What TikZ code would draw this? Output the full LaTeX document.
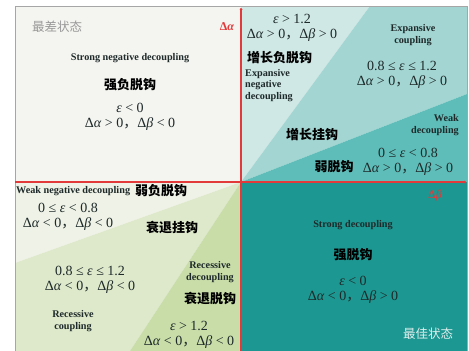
\documentclass[tikz,border=0pt]{standalone}
\usepackage{fontspec}
\setmainfont{Liberation Serif}
\newfontfamily\cjk{Noto Sans CJK SC}
\usetikzlibrary{arrows.meta}
\definecolor{tlfill}{HTML}{F4F4F0}
\definecolor{trA}{HTML}{CFE7E5}
\definecolor{trB}{HTML}{A3D5D2}
\definecolor{trC}{HTML}{5FBDB9}
\definecolor{brfill}{HTML}{1D9791}
\definecolor{blA}{HTML}{EFF2E6}
\definecolor{blB}{HTML}{DEE8CB}
\definecolor{blC}{HTML}{C9DDA9}
\definecolor{axisred}{HTML}{E23A3A}
\definecolor{txt}{HTML}{1E2A2A}
\newcommand{\ia}{\textit{α}}
\newcommand{\ib}{\textit{β}}
\newcommand{\ie}{\textit{ε}}
\newcommand{\cc}{{\cjk ，}}
\tikzset{
  en/.style={font=\fontsize{10.2}{11.5}\selectfont\bfseries, text=txt, inner sep=0pt, align=center},
  zh/.style={font=\cjk\bfseries\fontsize{13}{14}\selectfont, text=black, inner sep=0pt},
  eq/.style={font=\fontsize{14}{15.5}\selectfont, text=txt, inner sep=0pt, align=center},
  state/.style={font=\cjk\fontsize{12.5}{14}\selectfont, inner sep=0pt},
  axlab/.style={font=\fontsize{12}{13}\selectfont, text=axisred, inner sep=0pt}
}
\begin{document}
\begin{tikzpicture}[x=1pt,y=-1pt]
\useasboundingbox (0,0) rectangle (469,351);
\fill[white] (0,0) rectangle (469,351);
% quadrants
\fill[tlfill] (15,6) rectangle (241,182);
\fill[trA] (241,182) -- (241,6) -- (370,6) -- cycle;
\fill[trB] (241,182) -- (370,6) -- (467,6) -- (467,94) -- cycle;
\fill[trC] (241,182) -- (467,94) -- (467,182) -- cycle;
\fill[brfill] (241,182) rectangle (467,351);
\fill[blA] (15,182) -- (241,182) -- (15,263) -- cycle;
\fill[blB] (15,263) -- (241,182) -- (130,351) -- (15,351) -- cycle;
\fill[blC] (241,182) -- (241,351) -- (130,351) -- cycle;
\draw[gray!70, line width=0.8pt] (15,351) -- (15,6) -- (467,6) -- (467,351);
% axes
\coordinate (o) at (241,182);
\coordinate (ytop) at (241,8);
\coordinate (ybot) at (241,351);
\coordinate (xl) at (15,182);
\coordinate (xr) at (466,182);
\draw[axisred, line width=1.2pt, -{Circle[length=2.5pt]}] (ybot) -- (ytop);
\draw[axisred, line width=1.2pt, -{Circle[length=2.5pt]}] (xl) -- (xr);
\node[axlab] (da) at (227,27) {\textbf{Δ\textit{α}}};
\node[axlab] (db) at (435,196) {Δ\textit{β}};
% top-left
\node[state, text=gray!80] (worst) at (57,27) {最差状态};
\node[en] (sn) at (130,58) {Strong negative decoupling};
\node[zh] (snz) at (130,85) {强负脱钩};
\node[eq] (sne) at (130,117) {\ie{} < 0\\Δ\ia{} > 0\cc Δ\ib{} < 0};
% top-right
\node[eq] (ende) at (292,28) {\ie{} > 1.2\\Δ\ia{} > 0\cc Δ\ib{} > 0};
\node[zh, anchor=west] (endz) at (247,58) {增长负脱钩};
\node[en, anchor=north west, align=left] (ende2) at (245,69) {Expansive\\negative\\decoupling};
\node[en] (ec) at (413,35) {Expansive\\coupling};
\node[eq] (ece) at (402,75) {0.8 ≤ \ie{} ≤ 1.2\\Δ\ia{} > 0\cc Δ\ib{} > 0};
\node[en, anchor=east, align=right] (wd) at (459,125) {Weak\\decoupling};
\node[zh] (ecz) at (312,135) {增长挂钩};
\node[eq] (wde) at (408,162) {0 ≤ \ie{} < 0.8\\Δ\ia{} > 0\cc Δ\ib{} > 0};
\node[zh] (wdz) at (334,167) {弱脱钩};
% bottom-left
\node[en, anchor=west] (wn) at (16,191) {Weak negative decoupling};
\node[zh, anchor=west] (wnz) at (135,191) {弱负脱钩};
\node[eq] (wne) at (68,217) {0 ≤ \ie{} < 0.8\\Δ\ia{} < 0\cc Δ\ib{} < 0};
\node[zh] (rcz) at (172,227) {衰退挂钩};
\node[eq] (rce) at (90,280) {0.8 ≤ \ie{} ≤ 1.2\\Δ\ia{} < 0\cc Δ\ib{} < 0};
\node[en] (rd) at (210,272) {Recessive\\decoupling};
\node[zh] (rdz) at (210,298) {衰退脱钩};
\node[en] (rc) at (73,321) {Recessive\\coupling};
\node[eq] (rde) at (189,335) {\ie{} > 1.2\\Δ\ia{} < 0\cc Δ\ib{} < 0};
% bottom-right
\node[en] (sd) at (353,225) {Strong decoupling};
\node[zh] (sdz) at (353,255) {强脱钩};
\node[eq] (sde) at (353,290) {\ie{} < 0\\Δ\ia{} < 0\cc Δ\ib{} > 0};
\node[state, text=white!85!brfill] (best) at (428,334) {最佳状态};
\end{tikzpicture}
\end{document}
